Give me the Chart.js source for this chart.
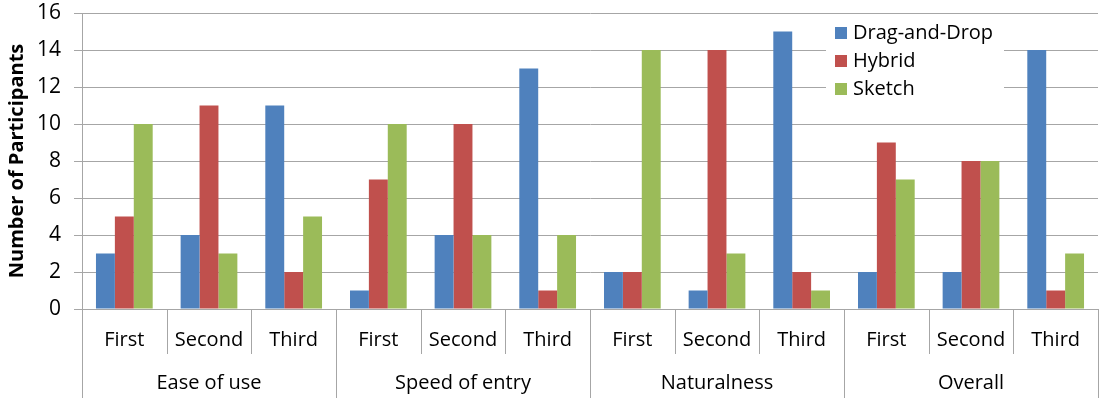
<!DOCTYPE html>
<html lang="en">
<head>
    <meta charset="UTF-8">
    <title>Number of Participants</title>
    <script src="https://cdn.jsdelivr.net/npm/chart.js"></script>
    <style>
        html, body { margin: 0; padding: 0; background: #fff; }
        .chart-box { width: 1099px; height: 403px; }
    </style>
</head>
<body>
    <div class="chart-box">
        <canvas id="rankChart"></canvas>
    </div>

    <script>
        // data
        const groups = ['Ease of use', 'Speed of entry', 'Naturalness', 'Overall'];
        const ranks = ['First', 'Second', 'Third'];
        const seriesNames = ['Drag-and-Drop', 'Hybrid', 'Sketch'];
        const dragAndDrop = [3, 4, 11, 1, 4, 13, 2, 1, 15, 2, 2, 14];
        const hybrid = [5, 11, 2, 7, 10, 1, 2, 14, 2, 9, 8, 1];
        const sketch = [10, 3, 5, 10, 4, 4, 14, 3, 1, 7, 8, 3];
        const yTicks = [0, 2, 4, 6, 8, 10, 12, 14, 16];

        const colors = ['#4F81BD', '#C0504D', '#9BBB59'];
        const fontFamily = '"Open Sans", sans-serif';
        const gridColor = '#a6a6a6';

        const labels = [];
        groups.forEach(() => ranks.forEach(r => labels.push(r)));

        // two-level category axis + legend box drawn on top
        const groupAxis = {
            id: 'groupAxis',
            afterDraw(chart) {
                const ctx = chart.ctx;
                const area = chart.chartArea;
                const n = labels.length;
                const step = (area.right - area.left) / n;
                ctx.save();
                ctx.strokeStyle = gridColor;
                ctx.lineWidth = 1;
                for (let i = 0; i <= n; i++) {
                    const px = Math.round(area.left + i * step) + 0.5;
                    const isGroup = i % ranks.length === 0;
                    ctx.beginPath();
                    ctx.moveTo(px, area.bottom);
                    ctx.lineTo(px, isGroup ? 398 : 354);
                    ctx.stroke();
                }
                ctx.fillStyle = '#000';
                ctx.font = '20px ' + fontFamily;
                ctx.textAlign = 'center';
                ctx.textBaseline = 'middle';
                groups.forEach((g, gi) => {
                    const cx = area.left + (gi + 0.5) * ranks.length * step;
                    ctx.fillText(g, cx, 383);
                });

                // legend
                ctx.fillStyle = '#fff';
                ctx.fillRect(826, 16, 178, 86);
                ctx.textAlign = 'left';
                seriesNames.forEach((name, i) => {
                    const y = 33 + i * 28;
                    ctx.fillStyle = colors[i];
                    ctx.fillRect(835, y - 6, 12, 12);
                    ctx.fillStyle = '#000';
                    ctx.fillText(name, 853, y);
                });
                ctx.restore();
            }
        };

        new Chart(document.getElementById('rankChart').getContext('2d'), {
            type: 'bar',
            data: {
                labels: labels,
                datasets: [
                    { label: seriesNames[0], data: dragAndDrop, backgroundColor: colors[0] },
                    { label: seriesNames[1], data: hybrid, backgroundColor: colors[1] },
                    { label: seriesNames[2], data: sketch, backgroundColor: colors[2] }
                ]
            },
            options: {
                responsive: true,
                maintainAspectRatio: false,
                animation: false,
                layout: { padding: { top: 13, right: 1, left: 0, bottom: 0 } },
                datasets: { bar: { categoryPercentage: 0.67, barPercentage: 1.0 } },
                plugins: {
                    legend: { display: false },
                    tooltip: { enabled: false }
                },
                scales: {
                    x: {
                        afterFit(scale) {
                            scale.height = 94;
                            scale.paddingLeft = 0;
                            scale.paddingRight = 0;
                        },
                        grid: { display: false },
                        border: { display: false },
                        ticks: {
                            color: '#000',
                            font: { family: fontFamily, size: 20 },
                            padding: 11,
                            maxRotation: 0,
                            autoSkip: false
                        }
                    },
                    y: {
                        min: 0,
                        max: 16,
                        afterFit(scale) {
                            scale.width = 82;
                            scale.paddingTop = 0;
                            scale.paddingBottom = 0;
                        },
                        afterBuildTicks(scale) { scale.ticks = yTicks.map(v => ({ value: v })); },
                        grid: { color: gridColor, tickLength: 8 },
                        border: { color: gridColor },
                        ticks: {
                            color: '#000',
                            font: { family: fontFamily, size: 21 },
                            padding: 13
                        },
                        title: {
                            display: true,
                            text: 'Number of Participants',
                            color: '#000',
                            font: { family: fontFamily, size: 20, weight: 'bold' },
                            padding: { top: 5, bottom: 0 }
                        }
                    }
                }
            },
            plugins: [groupAxis]
        });
    </script>
</body>
</html>
